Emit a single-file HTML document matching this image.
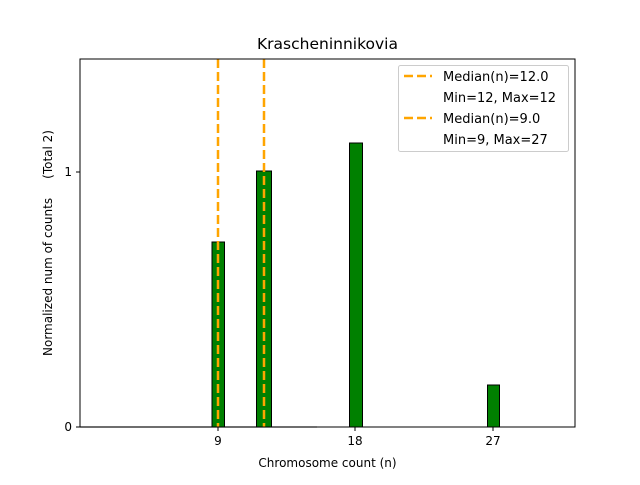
<!DOCTYPE html>
<html><head><style>body{margin:0;background:#fff}</style></head><body>
<svg width="640" height="480" xmlns="http://www.w3.org/2000/svg" font-family="'DejaVu Sans','Liberation Sans',sans-serif">
<rect width="640" height="480" fill="#fff"/>
<text x="327.5" y="49" font-size="15.5" text-anchor="middle">Krascheninnikovia</text>
<line x1="80" y1="427" x2="317" y2="427" stroke="#bbb" stroke-width="1.5"/>
<g fill="#008000" stroke="#000" stroke-width="1">
<rect x="212" y="242" width="12.5" height="185"/>
<rect x="256.5" y="171" width="15" height="256"/>
<rect x="349.5" y="143" width="13" height="284"/>
<rect x="487.5" y="385" width="12" height="42"/>
</g>
<g stroke="#FFA500" stroke-width="2.5" stroke-dasharray="9,4">
<line x1="218" y1="59" x2="218" y2="427"/>
<line x1="264" y1="59" x2="264" y2="427"/>
</g>
<rect x="80" y="59" width="495" height="368" fill="none" stroke="#000" stroke-width="1"/>
<g stroke="#000"><line x1="218" y1="427" x2="218" y2="431"/><line x1="355" y1="427" x2="355" y2="431"/><line x1="493" y1="427" x2="493" y2="431"/>
<line x1="76" y1="427" x2="80" y2="427"/><line x1="76" y1="172" x2="80" y2="172"/></g>
<g font-size="12" text-anchor="middle"><text x="218" y="445">9</text><text x="355" y="445">18</text><text x="493" y="445">27</text>
<text x="327.5" y="467">Chromosome count (n)</text></g>
<g font-size="12" text-anchor="end"><text x="72" y="431">0</text><text x="72" y="176">1</text></g>
<text transform="translate(52,243) rotate(-90)" font-size="12" text-anchor="middle" xml:space="preserve">Normalized num of counts     (Total 2)</text>
<rect x="398.5" y="65.5" width="170" height="86" rx="2" fill="#fff" fill-opacity="0.8" stroke="#ccc"/>
<g stroke="#FFA500" stroke-width="2.5" stroke-dasharray="9,4"><line x1="404" y1="76" x2="432" y2="76"/><line x1="404" y1="118" x2="432" y2="118"/></g>
<g font-size="13"><text x="443" y="81">Median(n)=12.0</text><text x="443" y="102">Min=12, Max=12</text>
<text x="443" y="123">Median(n)=9.0</text><text x="443" y="144">Min=9, Max=27</text></g>
</svg>
</body></html>
